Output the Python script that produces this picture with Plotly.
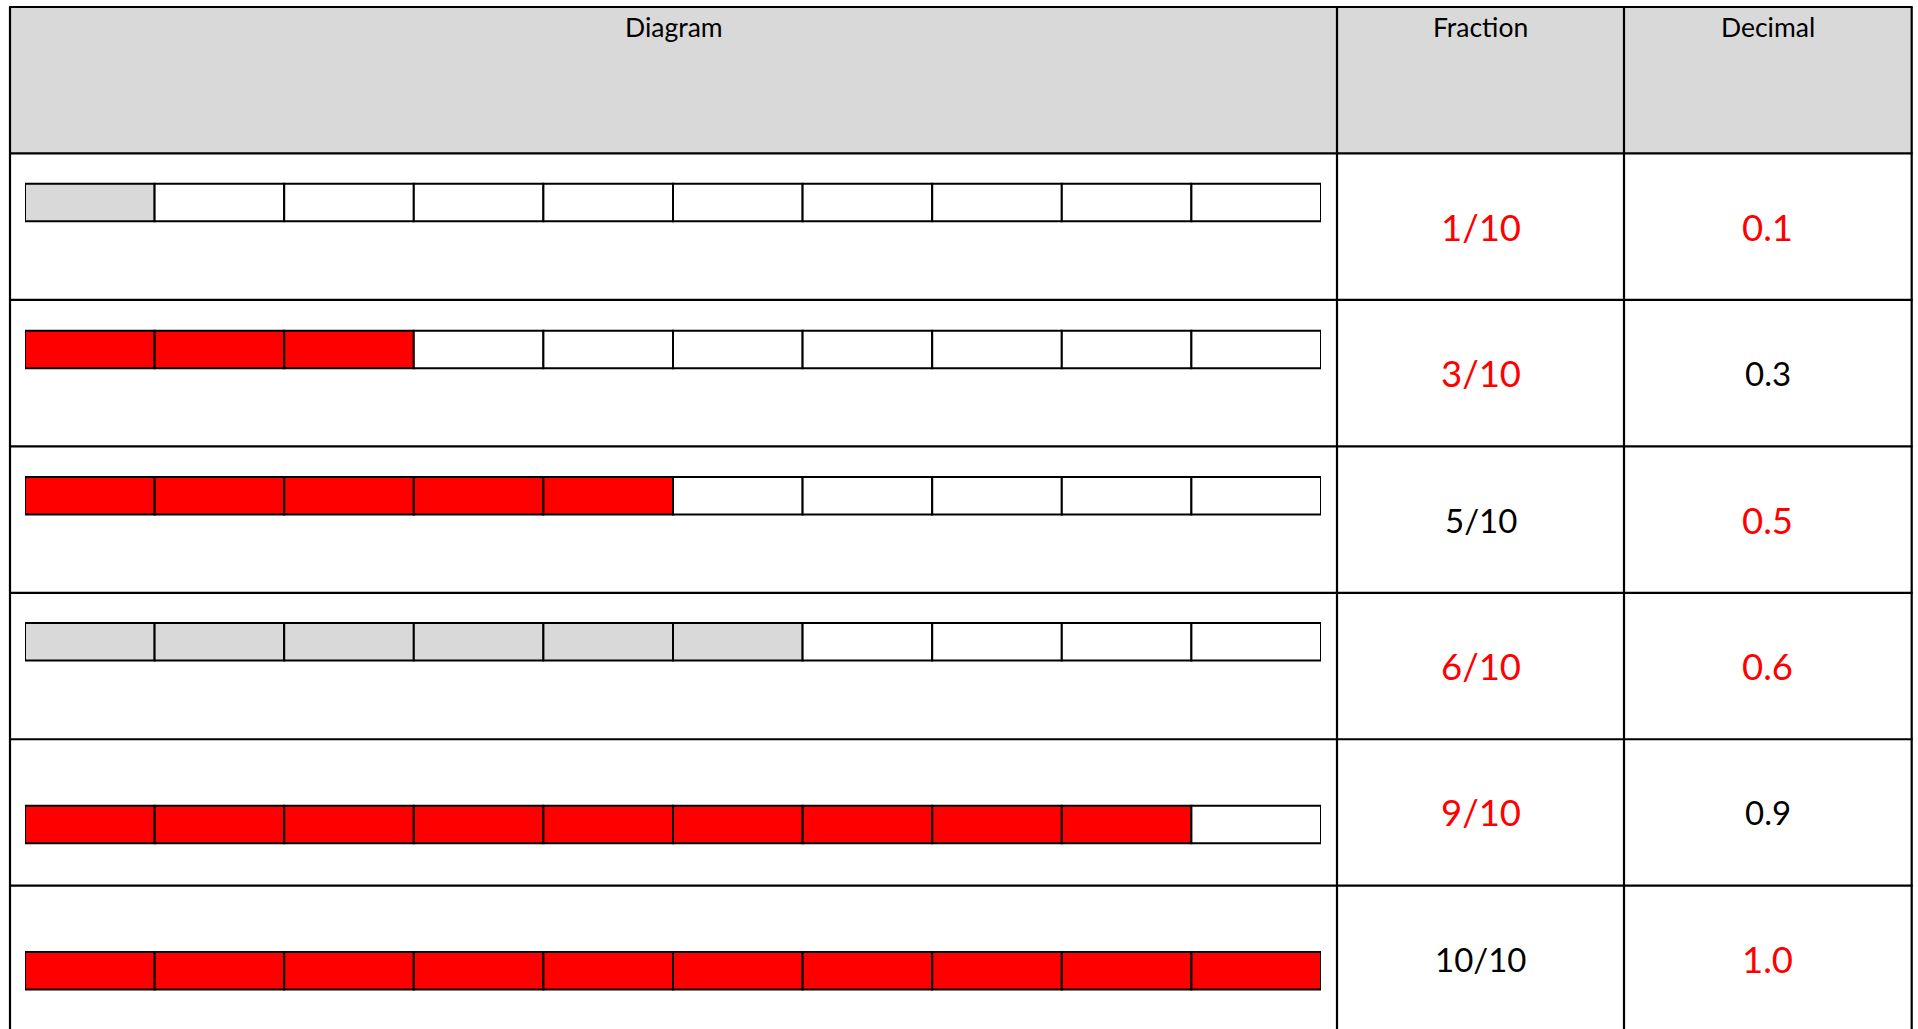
import plotly.graph_objects as go

# ---------------- data ----------------
headers = ["Diagram", "Fraction", "Decimal"]
fractions = ["1/10", "3/10", "5/10", "6/10", "9/10", "10/10"]
decimals = ["0.1", "0.3", "0.5", "0.6", "0.9", "1.0"]
shaded_parts = [1, 3, 5, 6, 9, 10]
total_parts = 10
shade_kind = ["gray", "red", "red", "gray", "red", "red"]
fraction_highlight = [True, True, False, True, True, False]
decimal_highlight = [True, False, True, True, False, True]

# ---------------- style / layout ----------------
W, H = 1918, 1029
RED = "#FF0000"
GRAY = "#D9D9D9"
FONT = "Lato"
ROW_PX = 146.45          # pixel height of a table row
TOP_PX = 7               # top border of the table
BAR_LEFT, BAR_RIGHT = 25, 1321
COL_X = [10, 1337, 1624, 1911.7]   # vertical grid lines
BAR_OFFSET = [0.335, 0.338, 0.338, 0.335, 0.582, 0.58]  # bar centre within row
BAR_THICK = 0.256
fill_map = {"gray": GRAY, "red": RED}

n_rows = len(fractions)
y_top = -1 - TOP_PX / ROW_PX
y_bottom = -1 + (H - TOP_PX) / ROW_PX

# bar segments
seg_y, seg_base, seg_len, seg_col = [], [], [], []
for i in range(n_rows):
    for k in range(total_parts):
        seg_y.append(i + BAR_OFFSET[i])
        seg_base.append(k)
        seg_len.append(1)
        seg_col.append(fill_map[shade_kind[i]] if k < shaded_parts[i] else "white")

fig = go.Figure()
fig.add_trace(go.Bar(
    orientation="h", y=seg_y, x=seg_len, base=seg_base, width=BAR_THICK,
    marker=dict(color=seg_col, line=dict(color="black", width=2)),
    hoverinfo="skip", showlegend=False,
))

px = lambda v: v / W
shapes = []
# header fill
shapes.append(dict(type="rect", xref="paper", yref="y", x0=px(COL_X[0]), x1=px(COL_X[-1]),
                   y0=-1, y1=0, fillcolor=GRAY, line=dict(width=0), layer="below"))
# horizontal lines
for r in range(-1, n_rows):
    shapes.append(dict(type="line", xref="paper", yref="y", x0=px(COL_X[0]) - 0.0005,
                       x1=px(COL_X[-1]) + 0.0005, y0=r, y1=r,
                       line=dict(color="black", width=2.2)))
# vertical lines
for cx in COL_X:
    shapes.append(dict(type="line", xref="paper", yref="y", x0=px(cx), x1=px(cx),
                       y0=-1, y1=y_bottom + 0.1, line=dict(color="black", width=2.2)))

annotations = []
centers = [(COL_X[j] + COL_X[j + 1]) / 2 for j in range(3)]
for j, h in enumerate(headers):
    annotations.append(dict(xref="paper", yref="y", x=px(centers[j]), y=-1 + 20 / ROW_PX,
                            text=h, showarrow=False, xanchor="center", yanchor="middle",
                            font=dict(family=FONT, size=26.5, color="black")))
for i in range(n_rows):
    for j, (txt, hl) in enumerate([(fractions[i], fraction_highlight[i]),
                                   (decimals[i], decimal_highlight[i])]):
        annotations.append(dict(xref="paper", yref="y", x=px(centers[j + 1]), y=i + 0.5,
                                text=txt, showarrow=False, xanchor="center", yanchor="middle",
                                font=dict(family=FONT, size=36.5 if hl else 33,
                                          color=RED if hl else "black")))

fig.update_layout(
    width=W, height=H, margin=dict(l=0, r=0, t=0, b=0),
    paper_bgcolor="white", plot_bgcolor="rgba(0,0,0,0)",
    barmode="overlay",
    xaxis=dict(domain=[px(BAR_LEFT), px(BAR_RIGHT)], range=[0, total_parts],
               visible=False, fixedrange=True),
    yaxis=dict(range=[y_bottom, y_top], visible=False, fixedrange=True),
    shapes=shapes, annotations=annotations,
)
fig.write_html("out.html",
               config={"displayModeBar": False},
               post_script="document.body.style.margin='0';document.body.style.overflow='hidden';")
